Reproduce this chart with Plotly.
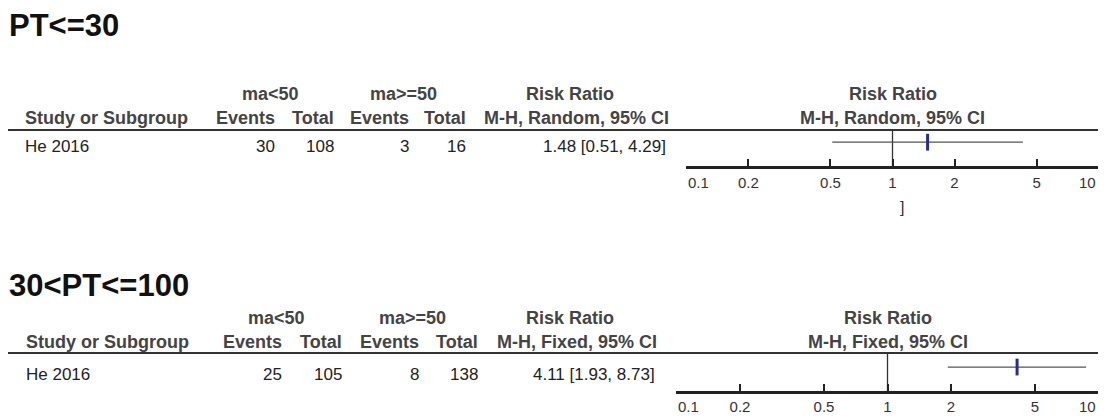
import math
import plotly.graph_objects as go

W, H = 1106, 417
BODY = 8  # default page margin of the html body; the figure is drawn inside it

# ---------------- data ----------------
titles = ["PT<=30", "30<PT<=100"]
methods = ["M-H, Random, 95% CI", "M-H, Fixed, 95% CI"]
studies = ["He 2016", "He 2016"]
group_labels = ["ma<50", "ma>=50"]
col_labels = ["Events", "Total", "Events", "Total"]
events_lt50 = [30, 25]
total_lt50 = [108, 105]
events_ge50 = [3, 8]
total_ge50 = [16, 138]
rr = [1.48, 4.11]
ci_low = [0.51, 1.93]
ci_high = [4.29, 8.73]
tick_vals = [0.1, 0.2, 0.5, 1, 2, 5, 10]
tick_text = ["0.1", "0.2", "0.5", "1", "2", "5", "10"]
null_value = 1

# ---------------- layout constants (window pixels) ----------------
P = [
    dict(title_y=26, hdr1_y=94, hdr2_y=118, line_y=130, row_y=147, axis_y=167,
         study_x=23, col_right=[277, 336, 411, 468], grp_center=[270, 403],
         rr_center=570, mh_center=577, val_right=668, tick_lab_y=183,
         ax_left=686, ax_right=1099, standoff=1, row_frac=0.67),
    dict(title_y=285, hdr1_y=318, hdr2_y=342, line_y=353, row_y=374, axis_y=392,
         study_x=24, col_right=[284, 344, 421, 480], grp_center=[276, 412],
         rr_center=570, mh_center=577, val_right=657, tick_lab_y=406,
         ax_left=676, ax_right=1099, standoff=0, row_frac=0.64),
]

FONT = "Arial, 'Liberation Sans', sans-serif"
HDR_COLOR = "#444444"
TXT_COLOR = "#222222"
TICK_COLOR = "#333333"
HDR_SIZE = 18
TXT_SIZE = 17
TICK_SIZE = 15
AX_COLOR = "#222222"

FW, FH = W - BODY, H - BODY


def px(x):
    return (x - BODY) / FW


def py(y):
    return 1 - (y - BODY) / FH


fig = go.Figure()
annotations = []
shapes = []

for k in range(2):
    p = P[k]
    xa = "x" if k == 0 else "x2"
    ya = "y" if k == 0 else "y2"
    yr = [-p["row_frac"], 1 - p["row_frac"]]

    # null line
    fig.add_trace(go.Scatter(
        x=[null_value, null_value], y=yr, xaxis=xa, yaxis=ya, mode="lines",
        line=dict(color="#333333", width=1.3), hoverinfo="skip", showlegend=False))
    # study CI + point estimate
    fig.add_trace(go.Scatter(
        x=[rr[k]], y=[0], xaxis=xa, yaxis=ya, mode="markers",
        marker=dict(symbol="line-ns", size=12,
                    line=dict(color="#2b2b8c", width=3), color="#2b2b8c"),
        error_x=dict(type="data", symmetric=False,
                     array=[ci_high[k] - rr[k]], arrayminus=[rr[k] - ci_low[k]],
                     width=0, thickness=1.3, color="#555555"),
        hoverinfo="skip", showlegend=False))

    # end labels are placed separately (aligned inwards, as in the original)
    inner_text = ["" if i in (0, len(tick_text) - 1) else t for i, t in enumerate(tick_text)]
    axis_common = dict(
        type="log", range=[-1.002, 1.002], showgrid=False, zeroline=False,
        showline=True, linecolor=AX_COLOR, linewidth=2,
        ticks="inside", ticklen=8, tickwidth=1.5, tickcolor=AX_COLOR,
        tickmode="array", tickvals=tick_vals, ticktext=inner_text,
        tickfont=dict(family=FONT, size=TICK_SIZE, color=TICK_COLOR),
        ticklabelstandoff=p["standoff"], ticklabeloverflow="allow",
        fixedrange=True, automargin=False,
        domain=[px(p["ax_left"]), px(p["ax_right"])],
    )
    yaxis_common = dict(range=yr, visible=False, fixedrange=True, automargin=False,
                        domain=[py(p["axis_y"]), py(p["line_y"])])
    if k == 0:
        fig.update_layout(xaxis=dict(anchor="y", **axis_common), yaxis=dict(anchor="x", **yaxis_common))
    else:
        fig.update_layout(xaxis2=dict(anchor="y2", **axis_common), yaxis2=dict(anchor="x2", **yaxis_common))

    # scale baseline (paper space, unclipped)
    shapes.append(dict(type="line", xref="paper", yref="paper",
                       x0=px(p["ax_left"]), x1=px(p["ax_right"]),
                       y0=py(p["axis_y"]), y1=py(p["axis_y"]), layer="above",
                       line=dict(color=AX_COLOR, width=2)))
    # header rule
    shapes.append(dict(type="line", xref="paper", yref="paper",
                       x0=px(8), x1=1, y0=py(p["line_y"]), y1=py(p["line_y"]),
                       line=dict(color="#333333", width=2)))

    # end tick labels, anchored on the axis data positions
    for i, anchor, shift in ((0, "left", 0), (len(tick_vals) - 1, "right", -1)):
        annotations.append(dict(
            text=tick_text[i], x=math.log10(tick_vals[i]), xref=xa,
            y=py(p["tick_lab_y"]), yref="paper", xanchor=anchor, yanchor="middle",
            xshift=shift, showarrow=False,
            font=dict(family=FONT, size=TICK_SIZE, color=TICK_COLOR)))

    def ann(text, x, y, anchor="center", size=TXT_SIZE, color=TXT_COLOR, bold=False):
        annotations.append(dict(
            text=("<b>%s</b>" % text) if bold else text,
            x=px(x), y=py(y), xref="paper", yref="paper",
            xanchor=anchor, yanchor="middle", showarrow=False,
            font=dict(family=FONT, size=size, color=color)))

    # title
    ann(titles[k], 7, p["title_y"], "left", 31, "#111111", True)
    # group headers
    for g in range(2):
        ann(group_labels[g], p["grp_center"][g], p["hdr1_y"], "center", HDR_SIZE, HDR_COLOR, True)
    ann("Risk Ratio", p["rr_center"], p["hdr1_y"], "center", HDR_SIZE, HDR_COLOR, True)
    ann("Risk Ratio", (p["ax_left"] + p["ax_right"]) / 2, p["hdr1_y"], "center", HDR_SIZE, HDR_COLOR, True)
    # column headers
    ann("Study or Subgroup", p["study_x"], p["hdr2_y"], "left", HDR_SIZE, HDR_COLOR, True)
    for c in range(4):
        ann(col_labels[c], p["col_right"][c], p["hdr2_y"], "right", HDR_SIZE, HDR_COLOR, True)
    ann(methods[k], p["mh_center"], p["hdr2_y"], "center", HDR_SIZE, HDR_COLOR, True)
    ann(methods[k], (p["ax_left"] + p["ax_right"]) / 2, p["hdr2_y"], "center", HDR_SIZE, HDR_COLOR, True)
    # data row
    ann(studies[k], p["study_x"], p["row_y"], "left")
    vals = [events_lt50[k], total_lt50[k], events_ge50[k], total_ge50[k]]
    for c in range(4):
        ann(str(vals[c]), p["col_right"][c], p["row_y"], "right")
    ann("%.2f [%.2f, %.2f]" % (rr[k], ci_low[k], ci_high[k]), p["val_right"], p["row_y"], "right")

# stray bracket under the first axis
annotations.append(dict(text="]", x=px(902), y=py(207), xref="paper", yref="paper",
                        xanchor="center", yanchor="middle", showarrow=False,
                        font=dict(family=FONT, size=16, color="#333333")))

fig.update_layout(
    width=FW, height=FH, margin=dict(l=0, r=0, t=0, b=0, autoexpand=False),
    paper_bgcolor="white", plot_bgcolor="white",
    showlegend=False, annotations=annotations, shapes=shapes,
)

fig.write_html("out.html")
